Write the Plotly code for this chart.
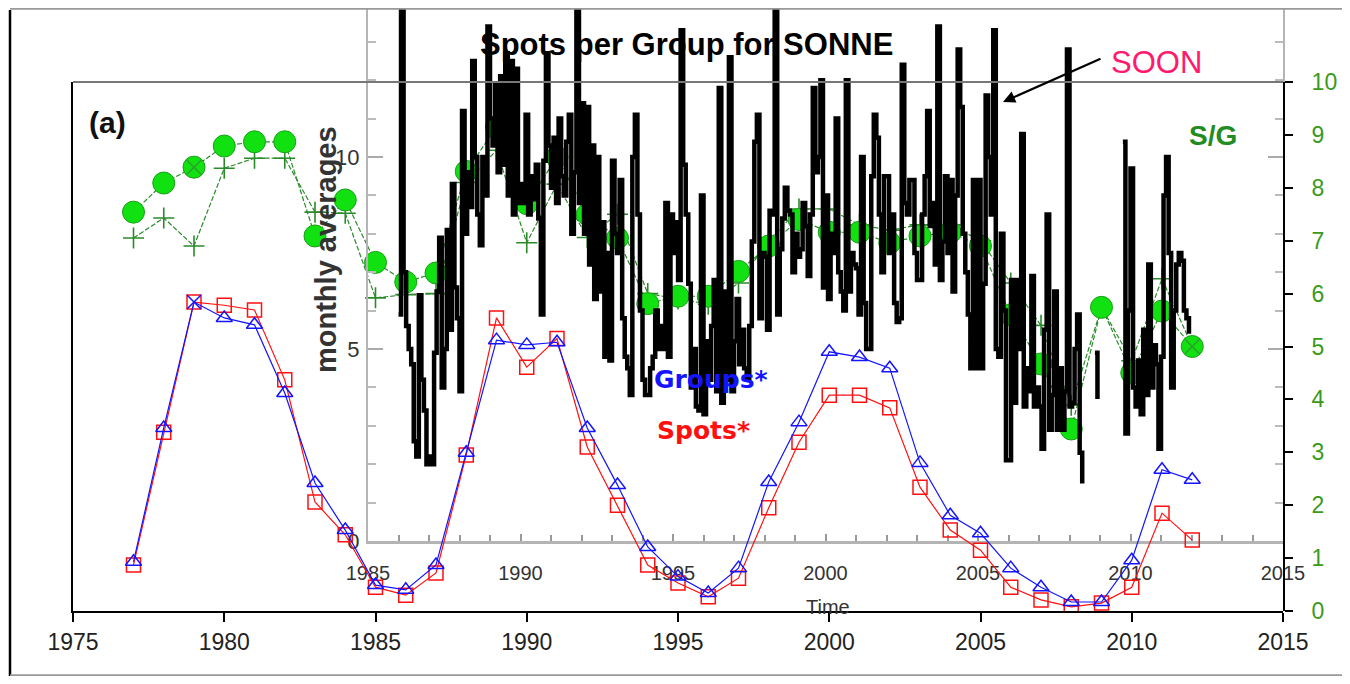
import plotly.graph_objects as go

# yearly values, outer panel (a), right axis scale
years = list(range(1977, 2013))

spots = [0.87, 3.38, 5.84, 5.78, 5.69, 4.37, 2.06, 1.44, 0.45, 0.30, 0.72, 2.95,
         5.54, 4.61, 5.15, 3.10, 2.00, 0.87, 0.53, 0.27, 0.62, 1.95, 3.19, 4.08,
         4.08, 3.84, 2.34, 1.53, 1.15, 0.45, 0.21, 0.08, 0.15, 0.45, 1.85, 1.34]

groups = [0.93, 3.46, 5.84, 5.54, 5.41, 4.12, 2.42, 1.53, 0.49, 0.40, 0.87, 2.99,
          5.12, 5.03, 5.08, 3.46, 2.38, 1.21, 0.65, 0.34, 0.81, 2.44, 3.57, 4.90,
          4.80, 4.59, 2.80, 1.81, 1.47, 0.81, 0.45, 0.17, 0.17, 0.96, 2.67, 2.48]

sg_dots = [7.54, 8.09, 8.39, 8.79, 8.87, 8.87, 7.09, 7.77, 6.59, 6.22, 6.39, 8.31,
           9.15, 7.70, 8.58, 7.50, 7.05, 5.81, 5.95, 5.95, 6.42, 6.90, 7.40, 7.16,
           7.16, 6.96, 7.09, 7.16, 6.90, 5.60, 4.67, 3.44, 5.74, 4.50, 5.67, 5.00]

sg_plus = [7.05, 7.43, 6.90, 8.37, 8.56, 8.56, 7.54, 7.52, 5.92, 5.98, 6.00, 8.10,
           8.71, 6.96, 8.07, 7.06, 7.50, 6.00, 5.90, 5.80, 6.20, 7.00, 7.60, 7.60,
           7.30, 7.20, 7.30, 7.30, 7.00, 6.20, 5.40, 3.89, 5.74, 4.73, 6.28, 5.00]

marked_years = [1979, 2012]

# inset: SONNE monthly averages of spots per group, Jan 1986 .. Dec 2011
sonne_start = 1986
sonne_monthly = [
    5.9, 15.0, 7.0, 5.6, 5.0, 4.6, 2.6, 2.2, 6.4, 4.2, 3.4, 2.0,          # 1986
    2.2, 2.0, 4.9, 6.5, 7.9, 4.0, 5.0, 8.1, 5.5, 9.3, 6.6, 5.8,           # 1987
    3.9, 11.2, 8.0, 9.6, 8.7, 12.5, 10.0, 8.5, 7.7, 10.0, 9.0, 13.4,      # 1988
    11.0, 10.3, 11.9, 9.6, 12.1, 9.8, 12.7, 9.0, 12.5, 8.5, 12.3, 8.8,    # 1989
    9.3, 8.8, 11.1, 8.5, 9.5, 8.9, 9.8, 8.4, 5.9, 9.9, 12.7, 10.3,        # 1990
    9.2, 10.5, 8.8, 11.0, 9.5, 9.0, 10.4, 11.1, 8.0, 9.6, 15.0, 8.8,      # 1991
    11.4, 8.0, 11.3, 7.2, 10.3, 6.3, 10.0, 6.5, 8.3, 4.8, 7.5, 4.7,       # 1992
    9.9, 8.0, 7.5, 9.4, 5.8, 4.8, 4.5, 3.8, 10.0, 11.1, 8.5, 6.0,         # 1993
    4.2, 3.8, 3.8, 4.5, 4.8, 6.0, 5.0, 5.6, 5.0, 8.8, 4.8, 8.5,           # 1994
    7.5, 8.3, 6.8, 13.3, 9.8, 8.5, 6.7, 4.0, 5.0, 3.5, 3.4, 9.0,          # 1995
    3.3, 5.2, 4.2, 5.6, 6.8, 3.9, 11.8, 3.6, 6.5, 4.2, 12.6, 3.9,         # 1996
    5.2, 6.3, 4.6, 5.5, 4.5, 4.2, 5.6, 7.8, 10.4, 11.1, 5.8, 7.5,         # 1997
    7.4, 5.5, 8.6, 8.5, 15.0, 5.9, 7.6, 8.4, 9.2, 8.6, 8.5, 7.0,          # 1998
    8.0, 7.4, 7.6, 8.8, 8.2, 6.9, 8.5, 11.8, 9.6, 10.0, 12.0, 6.6,        # 1999
    9.0, 6.3, 8.0, 7.5, 11.0, 7.0, 6.5, 6.0, 12.0, 6.5, 7.5, 7.2,         # 2000
    7.1, 5.9, 10.0, 6.2, 5.0, 5.0, 9.5, 11.1, 10.5, 8.5, 7.0, 9.5,        # 2001
    9.5, 7.5, 8.5, 6.2, 5.7, 5.8, 12.4, 8.8, 8.5, 9.4, 9.4, 7.5,          # 2002
    6.8, 6.8, 8.5, 9.5, 11.2, 8.2, 8.8, 7.2, 13.4, 6.8, 7.8, 9.5,         # 2003
    7.5, 9.4, 6.5, 9.0, 12.8, 11.3, 8.0, 7.0, 5.9, 4.5, 9.4, 4.5,         # 2004
    9.4, 4.5, 6.7, 11.6, 10.0, 8.5, 13.3, 5.0, 4.8, 8.0, 6.0, 2.1,        # 2005
    2.1, 6.8, 3.6, 6.8, 5.0, 10.6, 3.5, 4.5, 3.9, 6.9, 3.5, 4.0,          # 2006
    3.5, 2.4, 5.5, 8.5, 2.9, 3.8, 6.5, 2.9, 4.5, 2.9, 3.9, 12.8,          # 2007
    3.5, 3.6, 5.0, 5.9, 2.3, 1.5, None, None, None, None, 4.9, 3.7,       # 2008
    None, None, None, None, None, None, None, None, None, 10.4, 2.8, 6.0, # 2009
    9.7, 4.0, 3.5, 4.7, 3.3, 5.5, 3.8, 7.2, 4.0, 5.1, 4.6, 2.4,           # 2010
    4.8, 9.0, 10.0, 7.5, 4.0, 6.0, 7.2, 7.5, 7.3, 6.0, 5.8, 5.4,          # 2011
]
sonne_time = [sonne_start + i / 12 for i in range(len(sonne_monthly))]

# the page body keeps its 8px margin, so the figure is the window minus 16px
OFF = 8
W, H = 1350 - 2 * OFF, 684 - 2 * OFF


def px(x):
    return (x - OFF) / W


def py(y):
    return 1 - (y - OFF) / H


GREEN = "#2a8a2a"
FONT = "Liberation Sans, Arial, sans-serif"

fig = go.Figure()

# S/G curves (outer axes, under the inset)
fig.add_trace(go.Scatter(x=years, y=sg_plus, mode="lines+markers", xaxis="x", yaxis="y",
                         line=dict(color=GREEN, width=1.2, dash="5px,2px"),
                         marker=dict(symbol="cross-thin-open", size=15,
                                     line=dict(color=GREEN, width=1.6))))
fig.add_trace(go.Scatter(x=years, y=sg_dots, mode="lines+markers", xaxis="x", yaxis="y",
                         line=dict(color=GREEN, width=1.2, dash="5px,2px"),
                         marker=dict(symbol="circle", size=22, color="#11e011",
                                     line=dict(color="#18a018", width=1))))
mark_idx = [years.index(yr) for yr in marked_years]
fig.add_trace(go.Scatter(x=[years[i] for i in mark_idx], y=[sg_dots[i] for i in mark_idx],
                         mode="markers", xaxis="x", yaxis="y",
                         marker=dict(symbol="x-thin-open", size=15,
                                     line=dict(color="#111", width=1.5))))

# inset monthly series
fig.add_trace(go.Scatter(x=sonne_time, y=sonne_monthly, mode="lines", xaxis="x2", yaxis="y2",
                         line=dict(color="black", width=4.5, shape="hv"),
                         connectgaps=False))

# Spots* and Groups* (on top)
fig.add_trace(go.Scatter(x=years, y=spots, mode="lines+markers", xaxis="x3", yaxis="y3",
                         line=dict(color="#ff1010", width=1.2),
                         marker=dict(symbol="square-open", size=14,
                                     line=dict(color="#ff1010", width=1.5))))
blue_symbols = ["x-thin-open" if yr == 1979 else "triangle-up-open" for yr in years]
fig.add_trace(go.Scatter(x=years, y=groups, mode="lines+markers", xaxis="x3", yaxis="y3",
                         line=dict(color="#1414ff", width=1.2),
                         marker=dict(symbol=blue_symbols, size=14,
                                     line=dict(color="#1414ff", width=1.5))))

outer_x = [px(73), px(1283)]
outer_y = [py(611), py(82)]
inset_x = [px(368), px(1283)]
inset_y = [py(541), 1.0]
inset_top = (541 - OFF) / 38.4  # inset y value at the top edge of the figure

fig.update_layout(
    template="none",
    width=W, height=H,
    margin=dict(l=0, r=0, t=0, b=0, pad=0, autoexpand=False),
    paper_bgcolor="white",
    plot_bgcolor="rgba(0,0,0,0)",
    showlegend=False,
    font=dict(family=FONT, color="#222"),
    xaxis=dict(domain=outer_x, range=[1975, 2015], anchor="y", tick0=1975, dtick=5,
               ticks="outside", ticklen=9, tickwidth=2, tickcolor="black",
               showline=True, linecolor="black", linewidth=2, automargin=False,
               tickfont=dict(size=23, color="#222"), showgrid=False, zeroline=False),
    yaxis=dict(domain=outer_y, range=[0, 10], anchor="x", showline=True,
               linecolor="black", linewidth=2, showticklabels=False, ticks="",
               automargin=False, showgrid=False, zeroline=False),
    xaxis2=dict(domain=inset_x, range=[1985, 2015], anchor="y2", tick0=1985, dtick=5,
                ticks="inside", ticklen=7, tickcolor="#999", tickwidth=1.5,
                minor=dict(dtick=1, ticks="inside", ticklen=6, tickcolor="#999"),
                showline=True, linecolor="#b4b4b4", linewidth=3, automargin=False,
                tickfont=dict(size=20, color="#333"), ticklabelstandoff=12,
                showgrid=False, zeroline=False),
    yaxis2=dict(domain=inset_y, range=[0, inset_top], anchor="x2", tick0=0, dtick=5,
                ticks="inside", ticklen=15, tickcolor="#aaa", tickwidth=1.5,
                minor=dict(dtick=1, ticks="inside", ticklen=8, tickcolor="#bbb"),
                mirror="ticks", showline=True, linecolor="#b4b4b4", linewidth=2,
                automargin=False, tickfont=dict(size=22, color="#333"),
                ticklabelstandoff=2, showgrid=False, zeroline=False),
    xaxis3=dict(domain=outer_x, range=[1975, 2015], anchor="y3", visible=False,
                automargin=False),
    yaxis3=dict(domain=outer_y, range=[0, 10], anchor="x3", side="right", dtick=1,
                ticks="outside", ticklen=8, tickwidth=2, tickcolor="black",
                showline=True, linecolor="black", linewidth=2, automargin=False,
                tickfont=dict(size=23, color="#3a9a1a"), ticklabelstandoff=14,
                showgrid=False, zeroline=False),
)


def label(x, y, text, **kw):
    fig.add_annotation(x=px(x), y=py(y), xref="paper", yref="paper", showarrow=False,
                       xanchor="center", yanchor="middle", text=text, **kw)


label(686, 45, "<b>Spots per Group for SONNE</b>", font=dict(size=31, color="black"))
label(107, 123, "<b>(a)</b>", font=dict(size=30, color="#111"))
label(326, 250, "<b>monthly averages</b>", textangle=-90, font=dict(size=29, color="#333"))
label(828, 607, "Time", font=dict(size=20, color="#333"))
label(711, 380, "<b>Groups*</b>", font=dict(family="DejaVu Sans", size=25, color="#1414ff"))
label(703, 430, "<b>Spots*</b>", font=dict(family="DejaVu Sans", size=25, color="#ff1010"))
label(1213, 136, "<b>S/G</b>", font=dict(size=28, color="#228b22"))
label(1156, 62, "SOON", font=dict(size=31, color="#ff1a6e"))

fig.add_annotation(x=px(1003), y=py(102), xref="paper", yref="paper", text="",
                   showarrow=True, ax=99, ay=-44, arrowhead=2, arrowsize=1.1,
                   arrowwidth=2.2, arrowcolor="black")

# outer frame lines
fig.add_shape(type="line", xref="paper", yref="paper", x0=px(10), x1=1, y0=0.999, y1=0.999,
              line=dict(color="#999", width=2))
fig.add_shape(type="line", xref="paper", yref="paper", x0=px(10), x1=px(10), y0=0, y1=py(10),
              line=dict(color="black", width=2.5))
fig.add_shape(type="line", xref="paper", yref="paper", x0=px(10), x1=1, y0=0.001, y1=0.001,
              line=dict(color="#999", width=2))
fig.add_shape(type="line", xref="paper", yref="paper", x0=outer_x[0], x1=outer_x[1],
              y0=outer_y[1], y1=outer_y[1], line=dict(color="#777", width=2))

fig.write_html("out.html")
